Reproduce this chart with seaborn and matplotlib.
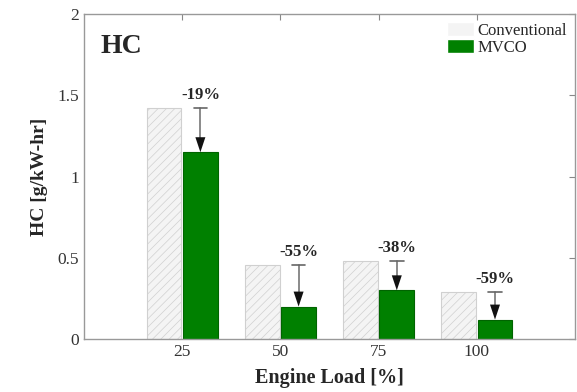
import matplotlib
matplotlib.use("Agg")
import matplotlib.pyplot as plt
import seaborn as sns
import pandas as pd

loads = ["25", "50", "75", "100"]
conventional = [1.42, 0.455, 0.48, 0.29]
mvco = [1.15, 0.20, 0.30, 0.12]
reductions = ["-19%", "-55%", "-38%", "-59%"]

sns.set_theme(style="white")
plt.rcParams['font.family'] = ['Liberation Serif', 'DejaVu Serif']
plt.rcParams['hatch.color'] = '#e2e2e2'
plt.rcParams['hatch.linewidth'] = 0.5

df = pd.DataFrame({
    "load": loads * 2,
    "value": conventional + mvco,
    "series": ["Conventional"] * 4 + ["MVCO"] * 4,
})

fig = plt.figure(figsize=(5.77, 3.92), dpi=100)
ax = fig.add_axes([0.1456, 0.135, 0.851, 0.829])
sns.barplot(data=df, x="load", y="value", hue="series", order=loads,
            hue_order=["Conventional", "MVCO"],
            palette={"Conventional": "#f4f4f4", "MVCO": "#008000"},
            width=0.74, gap=0.04, ax=ax, errorbar=None, saturation=1)

conv_patches = ax.containers[0]
mvco_patches = ax.containers[1]
for p in conv_patches:
    p.set_edgecolor('#d0d0d0')
    p.set_linewidth(0.8)
    p.set_hatch('////')
for p in mvco_patches:
    p.set_edgecolor('#006400')
    p.set_linewidth(0.8)

for i, p in enumerate(mvco_patches):
    xc = p.get_x() + p.get_width() / 2
    top = conventional[i]
    bot = mvco[i]
    ax.plot([xc, xc], [top, bot + 0.05], color='#777777', lw=1.2)
    ax.annotate("", xy=(xc, bot), xytext=(xc, bot + 0.12),
                arrowprops=dict(arrowstyle="-|>,head_length=0.9,head_width=0.3",
                                color='#111111', lw=0.0, shrinkA=0, shrinkB=0))
    ax.plot([xc - 0.07, xc + 0.07], [top, top], color='#666666', lw=1.2)
    ax.text(xc, top + 0.03, reductions[i], ha='center', va='bottom',
            fontsize=12, fontweight='bold')

ax.set_xlim(-1, 4)
ax.set_ylim(0, 2)
ax.set_yticks([0, 0.5, 1, 1.5, 2])
ax.set_yticklabels(["0", "0.5", "1", "1.5", "2"])
ax.tick_params(direction='in', top=True, right=True, length=4, color='#888888',
               labelsize=12.5, labelcolor='#333333', width=0.8)
for s in ax.spines.values():
    s.set_color('#999999')
    s.set_linewidth(1.0)

ax.set_xlabel("Engine Load [%]", fontsize=14.5, fontweight='bold', labelpad=6)
ax.set_ylabel("HC [g/kW-hr]", fontsize=14, fontweight='bold')
ax.yaxis.set_label_coords(-0.073, 0.5)
ax.text(0.034, 0.94, "HC", transform=ax.transAxes, fontsize=20,
        fontweight='bold', va='top', ha='left')

leg = ax.legend(loc='upper right', frameon=False, fontsize=12,
                handlelength=1.6, handleheight=0.9, handletextpad=0.2,
                borderaxespad=0.1, labelspacing=0.0)

fig.savefig("out.png", dpi=100)
